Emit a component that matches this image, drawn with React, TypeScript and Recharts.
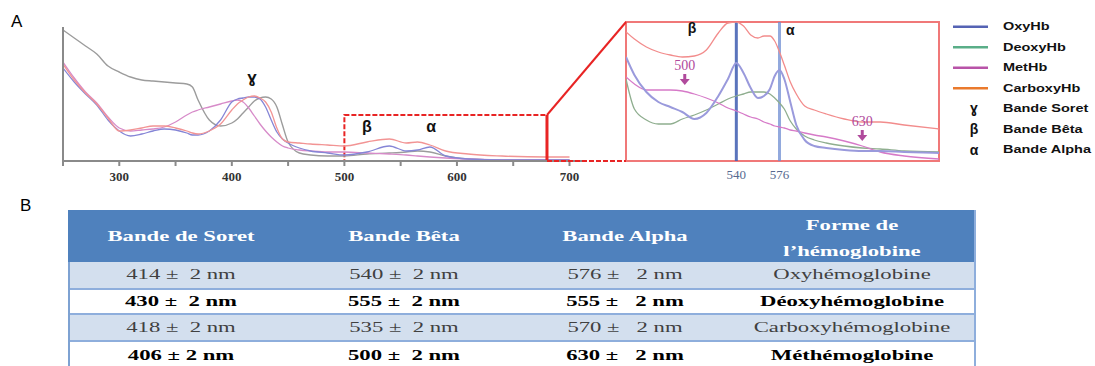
import React from "react";
import {
  LineChart,
  Line,
  XAxis,
  YAxis,
  ReferenceArea,
  ReferenceLine,
  ReferenceDot,
} from "recharts";

// Full spectrum (nm) and absorbance of each form
const wavelengths = [250, 260, 270, 280, 290, 300, 310, 320, 330, 340, 350, 360, 365, 370, 380, 390, 400, 405, 410, 415, 420, 425, 430, 435, 440, 445, 450, 460, 470, 485, 500, 520, 540, 555, 565, 576, 590, 610, 640, 680, 700];
const deoxyAbs = [1.31, 1.23, 1.15, 1.07, 0.95, 0.89, 0.84, 0.81, 0.8, 0.79, 0.78, 0.77, 0.74, 0.61, 0.41, 0.35, 0.38, 0.42, 0.48, 0.54, 0.6, 0.63, 0.64, 0.62, 0.54, 0.36, 0.19, 0.08, 0.06, 0.05, 0.05, 0.07, 0.08, 0.09, 0.1, 0.09, 0.05, 0.02, 0.01, 0.01, 0.01];
const oxyAbs = [0.93, 0.79, 0.67, 0.56, 0.41, 0.3, 0.25, 0.27, 0.3, 0.32, 0.31, 0.28, 0.26, 0.26, 0.3, 0.41, 0.59, 0.62, 0.63, 0.64, 0.64, 0.62, 0.54, 0.41, 0.29, 0.22, 0.18, 0.13, 0.1, 0.08, 0.06, 0.09, 0.15, 0.1, 0.11, 0.14, 0.05, 0.02, 0.01, 0.01, 0.01];
const carboxyAbs = [0.97, 0.81, 0.68, 0.57, 0.43, 0.3, 0.31, 0.33, 0.35, 0.35, 0.33, 0.3, 0.28, 0.27, 0.3, 0.37, 0.51, 0.57, 0.61, 0.64, 0.65, 0.63, 0.59, 0.49, 0.33, 0.22, 0.19, 0.18, 0.17, 0.16, 0.15, 0.19, 0.22, 0.18, 0.19, 0.16, 0.1, 0.07, 0.05, 0.04, 0.04];
const metAbs = [0.99, 0.83, 0.69, 0.58, 0.44, 0.33, 0.3, 0.31, 0.32, 0.34, 0.39, 0.46, 0.49, 0.51, 0.54, 0.57, 0.6, 0.61, 0.59, 0.53, 0.45, 0.37, 0.3, 0.24, 0.19, 0.15, 0.13, 0.11, 0.1, 0.09, 0.09, 0.08, 0.07, 0.06, 0.05, 0.04, 0.03, 0.02, 0.01, 0.01, 0.01];
const mainTicks = [250, 300, 350, 400, 450, 500, 550, 600, 650, 700];

// Zoomed window (Q bands)
const zoomWavelengths = [448, 455, 465, 475, 485, 495, 505, 515, 525, 533, 540, 546, 552, 558, 563, 568, 572, 576, 580, 585, 590, 597, 605, 615, 630, 645, 660, 680, 709];
const zoomCarboxy = [1.29, 1.22, 1.14, 1.09, 1.06, 1.04, 1.05, 1.11, 1.28, 1.38, 1.39, 1.35, 1.26, 1.23, 1.25, 1.25, 1.2, 1.09, 0.96, 0.79, 0.67, 0.55, 0.51, 0.47, 0.42, 0.39, 0.39, 0.36, 0.32];
const zoomOxy = [1.04, 0.86, 0.69, 0.59, 0.54, 0.49, 0.42, 0.48, 0.65, 0.82, 0.98, 0.88, 0.73, 0.63, 0.65, 0.72, 0.85, 0.91, 0.82, 0.59, 0.36, 0.21, 0.15, 0.13, 0.11, 0.1, 0.1, 0.09, 0.08];
const zoomDeoxy = [0.82, 0.52, 0.41, 0.37, 0.37, 0.42, 0.46, 0.51, 0.57, 0.62, 0.65, 0.67, 0.69, 0.69, 0.69, 0.67, 0.63, 0.58, 0.52, 0.4, 0.32, 0.25, 0.21, 0.18, 0.15, 0.13, 0.12, 0.1, 0.09];
const zoomMet = [0.84, 0.77, 0.71, 0.71, 0.71, 0.7, 0.67, 0.63, 0.58, 0.53, 0.5, 0.47, 0.44, 0.42, 0.39, 0.37, 0.35, 0.34, 0.33, 0.31, 0.3, 0.28, 0.26, 0.24, 0.2, 0.15, 0.09, 0.05, 0.02];
const zoomTicks = [540, 576];

// Table B
const tableHeaders = ["Bande de Soret", "Bande Bêta", "Bande Alpha", "Forme de\nl’hémoglobine"];
const soretBands = ["414 ±  2 nm", "430 ±  2 nm", "418 ±  2 nm", "406 ± 2 nm"];
const betaBands = ["540 ±  2 nm", "555 ±  2 nm", "535 ±  2 nm", "500 ±  2 nm"];
const alphaBands = ["576 ±   2 nm", "555 ±   2 nm", "570 ±   2 nm", "630 ±   2 nm"];
const hbForms = ["Oxyhémoglobine", "Déoxyhémoglobine", "Carboxyhémoglobine", "Méthémoglobine"];

const legendItems = [
  { label: "OxyHb", color: "#5563b4" },
  { label: "DeoxyHb", color: "#5aae88" },
  { label: "MetHb", color: "#b853a8" },
  { label: "CarboxyHb", color: "#ea7a2c" },
];
const legendSymbols = [
  { sym: "ɣ", label: "Bande Soret" },
  { sym: "β", label: "Bande Bêta" },
  { sym: "α", label: "Bande Alpha" },
];

const mainData = wavelengths.map((nm, i) => ({
  nm,
  deoxy: deoxyAbs[i],
  oxy: oxyAbs[i],
  carboxy: carboxyAbs[i],
  met: metAbs[i],
}));

const zoomData = zoomWavelengths.map((nm, i) => ({
  nm,
  carboxy: zoomCarboxy[i],
  oxy: zoomOxy[i],
  deoxy: zoomDeoxy[i],
  met: zoomMet[i],
}));

const SANS = "'Liberation Sans', Arial, sans-serif";
const SERIF = "'Liberation Serif', 'Times New Roman', serif";

// layout of the main plot, used for the zoom connector and left axis
const MAIN_LEFT = 63;
const MAIN_TOP = 27;
const MAIN_WIDTH = 520;
const MAIN_BOTTOM = 161;
const MAIN_HEIGHT = 134;
const MAIN_DOMAIN: [number, number] = [250, 712];
const MAIN_YMAX = 1.34;
const BOX_X = [500, 680];
const BOX_TOP = 0.46;

const mainPx = (nm: number) =>
  MAIN_LEFT + ((nm - MAIN_DOMAIN[0]) / (MAIN_DOMAIN[1] - MAIN_DOMAIN[0])) * MAIN_WIDTH;
const mainPy = (v: number) => MAIN_BOTTOM - (v / MAIN_YMAX) * MAIN_HEIGHT;

const symbol = (text: string, size: number) => (p: any) => (
  <text
    x={p.cx}
    y={p.cy}
    textAnchor="middle"
    fontFamily={SANS}
    fontWeight="bold"
    fontSize={size}
    fill="#111"
  >
    {text}
  </text>
);

const arrowNote = (text: string) => (p: any) => (
  <g>
    <text x={p.cx} y={p.cy} textAnchor="middle" fontFamily={SERIF} fontSize={14} fill="#b04a9c">
      {text}
    </text>
    <line x1={p.cx} y1={p.cy + 4} x2={p.cx} y2={p.cy + 10} stroke="#b04a9c" strokeWidth={3} />
    <path d={`M${p.cx - 5},${p.cy + 9} L${p.cx + 5},${p.cy + 9} L${p.cx},${p.cy + 15} Z`} fill="#b04a9c" />
  </g>
);

function Table() {
  const rows = [0, 1, 2, 3];
  const rowTops = [52, 78, 103, 130];
  const rowHeights = [26, 25, 27, 30];
  const centers = [113, 336, 557, 784];
  const cols = [soretBands, betaBands, alphaBands, hbForms];
  const cell = (text: string, cx: number, top: number, h: number, bold: boolean, color: string, key: string) => (
    <span
      key={key}
      style={{
        position: "absolute",
        left: cx - 200,
        width: 400,
        top,
        height: h,
        lineHeight: h + "px",
        textAlign: "center",
        whiteSpace: "pre",
        fontFamily: SERIF,
        fontSize: 14,
        fontWeight: bold ? "bold" : "normal",
        color,
        transform: "scaleX(1.62)",
      }}
    >
      {text}
    </span>
  );
  return (
    <div style={{ position: "absolute", left: 68, top: 210, width: 908, height: 160 }}>
      <div style={{ position: "absolute", left: 0, top: 0, width: 908, height: 52, background: "#4f81bd" }} />
      <div style={{ position: "absolute", left: 0, top: 52, width: 908, height: 2, background: "#ffffff" }} />
      {rows.map((r) => (
        <div
          key={"bg" + r}
          style={{
            position: "absolute",
            left: 0,
            top: rowTops[r],
            width: 908,
            height: rowHeights[r],
            background: r % 2 === 0 ? "#d3dfee" : "#ffffff",
            borderTop: r > 0 ? "2px solid #8eaedc" : "none",
            boxSizing: "border-box",
          }}
        />
      ))}
      <div style={{ position: "absolute", left: 0, top: 52, width: 2, height: 110, background: "#7ea2d2" }} />
      <div style={{ position: "absolute", left: 906, top: 0, width: 2, height: 162, background: "#8eaedc" }} />
      {tableHeaders.map((h, c) => {
        const lines = h.split("\n");
        if (lines.length === 1) return cell(h, centers[c], 0, 54, true, "#ffffff", "h" + c);
        return (
          <React.Fragment key={"h" + c}>
            {cell(lines[0], centers[c], 3, 26, true, "#ffffff", "h" + c + "a")}
            {cell(lines[1], centers[c], 29, 26, true, "#ffffff", "h" + c + "b")}
          </React.Fragment>
        );
      })}
      {rows.map((r) =>
        cols.map((col, c) =>
          cell(
            col[r],
            centers[c],
            rowTops[r] + (r > 0 ? 1 : 0),
            rowHeights[r],
            r % 2 === 1,
            r % 2 === 1 ? "#000000" : "#404040",
            "c" + r + "-" + c
          )
        )
      )}
    </div>
  );
}

function Legend() {
  return (
    <svg width={155} height={170} style={{ position: "absolute", left: 940, top: 0 }}>
      {legendItems.map((it, i) => {
        const y = 26.7 + i * 20.5;
        return (
          <g key={it.label}>
            <line x1={13} x2={48} y1={y} y2={y} stroke={it.color} strokeWidth={2.5} />
            <text
              transform={`translate(63,${y + 3.5}) scale(1.45,1)`}
              fontFamily={SANS}
              fontWeight="bold"
              fontSize={10}
              fill="#111"
            >
              {it.label}
            </text>
          </g>
        );
      })}
      {legendSymbols.map((it, i) => {
        const y = 108.3 + i * 20.8;
        return (
          <g key={it.label}>
            <text x={34} y={y + 5} textAnchor="middle" fontFamily={SANS} fontWeight="bold" fontSize={14} fill="#111">
              {it.sym}
            </text>
            <text
              transform={`translate(63,${y + 3.5}) scale(1.45,1)`}
              fontFamily={SANS}
              fontWeight="bold"
              fontSize={10}
              fill="#111"
            >
              {it.label}
            </text>
          </g>
        );
      })}
    </svg>
  );
}

export default function App() {
  const boxRight = mainPx(BOX_X[1]);
  const boxTop = mainPy(BOX_TOP);
  return (
    <div
      style={{
        position: "absolute",
        left: 0,
        top: 0,
        width: 1095,
        height: 366,
        overflow: "hidden",
        background: "#fff",
      }}
    >
      <div style={{ position: "absolute", left: 11, top: 12, fontFamily: SANS, fontSize: 17 }}>A</div>
      <div style={{ position: "absolute", left: 20, top: 196, fontFamily: SANS, fontSize: 17 }}>B</div>

      <div style={{ position: "absolute", left: 0, top: 0 }}>
        <LineChart
          width={600}
          height={190}
          data={mainData}
          margin={{ top: MAIN_TOP, right: 17, left: MAIN_LEFT, bottom: 0 }}
        >
          <XAxis
            dataKey="nm"
            type="number"
            domain={MAIN_DOMAIN}
            ticks={mainTicks}
            allowDataOverflow
            height={29}
            tickSize={5}
            tickMargin={6}
            tickFormatter={(v: number) => (v % 100 === 0 && v > 250 ? String(v) : "")}
            tick={{ fontFamily: SERIF, fontWeight: "bold", fontSize: 13, fill: "#333" }}
            axisLine={{ stroke: "#8a8a8a", strokeWidth: 2 }}
            tickLine={{ stroke: "#8a8a8a", strokeWidth: 2 }}
          />
          <YAxis hide domain={[0, MAIN_YMAX]} allowDataOverflow />
          <Line type="monotone" dataKey="deoxy" stroke="#9c9c9c" strokeWidth={1.4} dot={false} isAnimationActive={false} />
          <Line type="monotone" dataKey="met" stroke="#d78bc9" strokeWidth={1.3} dot={false} isAnimationActive={false} />
          <Line type="monotone" dataKey="oxy" stroke="#8585d6" strokeWidth={1.3} dot={false} isAnimationActive={false} />
          <Line type="monotone" dataKey="carboxy" stroke="#f29494" strokeWidth={1.3} dot={false} isAnimationActive={false} />
          <ReferenceArea
            x1={BOX_X[0]}
            x2={BOX_X[1]}
            y1={0}
            y2={BOX_TOP}
            fill="none"
            stroke="#e82424"
            strokeWidth={2}
            strokeDasharray="5 2"
            ifOverflow="visible"
          />
          <ReferenceLine
            segment={[{ x: BOX_X[1], y: 0 }, { x: BOX_X[1], y: BOX_TOP }]}
            stroke="#e82424"
            strokeWidth={3}
            ifOverflow="visible"
          />
          <ReferenceDot x={418} y={0.78} r={1} shape={symbol("ɣ", 17)} ifOverflow="visible" />
          <ReferenceDot x={520} y={0.29} r={1} shape={symbol("β", 16)} ifOverflow="visible" />
          <ReferenceDot x={577} y={0.29} r={1} shape={symbol("α", 16)} ifOverflow="visible" />
        </LineChart>
      </div>

      <div style={{ position: "absolute", left: 600, top: 0 }}>
        <LineChart
          width={360}
          height={190}
          data={zoomData}
          margin={{ top: 22, right: 21, left: 26, bottom: 0 }}
        >
          <XAxis
            dataKey="nm"
            type="number"
            domain={[448, 709]}
            ticks={zoomTicks}
            allowDataOverflow
            height={29}
            tickSize={0}
            tickMargin={9}
            tickLine={false}
            axisLine={false}
            tick={{ fontFamily: SERIF, fontSize: 13, fill: "#56698f" }}
          />
          <YAxis hide domain={[0, 1.39]} allowDataOverflow />
          <ReferenceLine x={540} stroke="#3d5cb0" strokeWidth={3} strokeOpacity={0.85} />
          <ReferenceLine x={576} stroke="#6d8cd2" strokeWidth={3} strokeOpacity={0.75} />
          <Line type="monotone" dataKey="deoxy" stroke="#8fae8f" strokeWidth={1.3} dot={false} isAnimationActive={false} />
          <Line type="monotone" dataKey="met" stroke="#d67ac8" strokeWidth={1.3} dot={false} isAnimationActive={false} />
          <Line type="monotone" dataKey="oxy" stroke="#9a9adc" strokeWidth={2} dot={false} isAnimationActive={false} />
          <Line type="monotone" dataKey="carboxy" stroke="#f28c8c" strokeWidth={1.3} dot={false} isAnimationActive={false} />
          <ReferenceArea
            x1={448}
            x2={709}
            y1={0}
            y2={1.39}
            fill="none"
            stroke="#f07878"
            strokeWidth={2}
            ifOverflow="visible"
          />
          <ReferenceDot x={503} y={1.28} r={1} shape={symbol("β", 14)} ifOverflow="visible" />
          <ReferenceDot x={585} y={1.26} r={1} shape={symbol("α", 14)} ifOverflow="visible" />
          <ReferenceDot x={497} y={0.91} r={1} shape={arrowNote("500")} ifOverflow="visible" />
          <ReferenceDot x={645} y={0.35} r={1} shape={arrowNote("630")} ifOverflow="visible" />
        </LineChart>
      </div>

      <svg
        width={1095}
        height={190}
        style={{ position: "absolute", left: 0, top: 0, pointerEvents: "none" }}
      >
        {/* left axis of the main plot */}
        <line x1={MAIN_LEFT} y1={MAIN_TOP} x2={MAIN_LEFT} y2={MAIN_BOTTOM + 1} stroke="#8a8a8a" strokeWidth={2} />
        <line x1={boxRight} y1={boxTop} x2={626} y2={22} stroke="#e82424" strokeWidth={2} />
        <line
          x1={boxRight}
          y1={MAIN_BOTTOM}
          x2={626}
          y2={MAIN_BOTTOM}
          stroke="#e82424"
          strokeWidth={2}
          strokeDasharray="5 2"
        />
      </svg>

      <Legend />
      <Table />
    </div>
  );
}
